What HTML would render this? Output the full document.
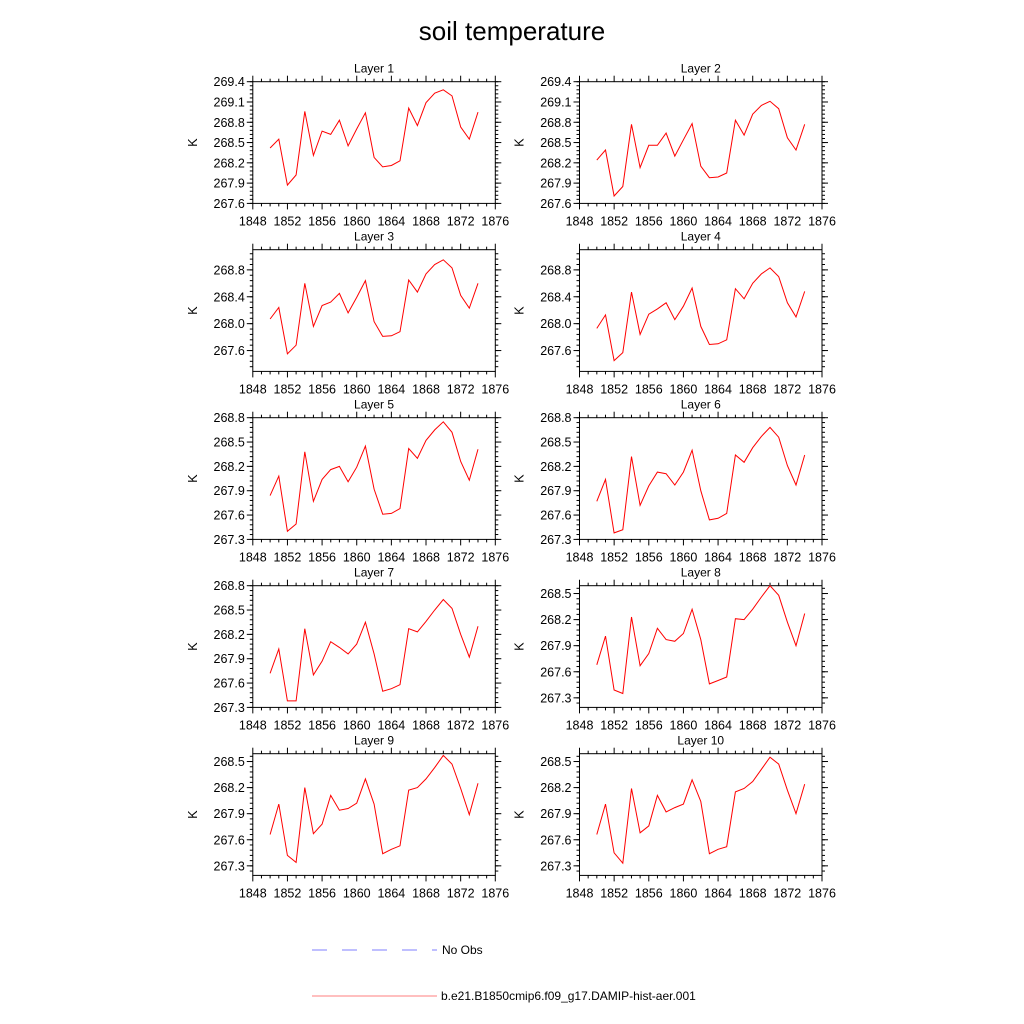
<!DOCTYPE html>
<html><head><meta charset="utf-8"><style>
body{margin:0;background:#fff;}
svg{display:block;font-family:"Liberation Sans",sans-serif;}
</style></head><body>
<svg id="chart" width="1024" height="1024" viewBox="0 0 1024 1024" xmlns="http://www.w3.org/2000/svg">
<rect width="1024" height="1024" fill="#fff"/>
<text x="512" y="40" font-size="26" text-anchor="middle">soil temperature</text>
<g>
<line x1="312" y1="950" x2="437" y2="950" stroke="#7f7fff" stroke-width="1" stroke-dasharray="15,15"/>
<text x="442" y="954" font-size="12">No Obs</text>
<line x1="312" y1="996" x2="437" y2="996" stroke="#ff7f7f" stroke-width="1"/>
<text x="441" y="1000" font-size="12">b.e21.B1850cmip6.f09_g17.DAMIP-hist-aer.001</text>
</g>
</svg>
<script>
const years = [1850,1851,1852,1853,1854,1855,1856,1857,1858,1859,1860,1861,1862,1863,1864,1865,1866,1867,1868,1869,1870,1871,1872,1873,1874];
const xTicks = [1848,1852,1856,1860,1864,1868,1872,1876];
const layer1 = [268.42,268.55,267.87,268.02,268.96,268.31,268.67,268.62,268.83,268.45,268.70,268.94,268.28,268.14,268.16,268.23,269.01,268.75,269.09,269.23,269.28,269.19,268.73,268.55,268.95];
const layer2 = [268.24,268.39,267.71,267.85,268.77,268.13,268.46,268.46,268.64,268.30,268.54,268.78,268.15,267.98,267.99,268.05,268.83,268.61,268.92,269.05,269.11,269.00,268.57,268.39,268.77];
const layer3 = [268.07,268.24,267.55,267.68,268.60,267.96,268.27,268.32,268.45,268.16,268.39,268.64,268.03,267.81,267.82,267.88,268.65,268.47,268.74,268.88,268.95,268.83,268.42,268.23,268.60];
const layer4 = [267.93,268.13,267.45,267.57,268.47,267.84,268.14,268.22,268.31,268.06,268.26,268.53,267.96,267.69,267.70,267.76,268.52,268.37,268.60,268.74,268.83,268.70,268.31,268.10,268.48];
const layer5 = [267.84,268.08,267.40,267.49,268.38,267.77,268.04,268.16,268.20,268.01,268.19,268.45,267.92,267.61,267.62,267.68,268.42,268.30,268.52,268.65,268.75,268.62,268.26,268.03,268.41];
const layer6 = [267.77,268.04,267.38,267.42,268.32,267.72,267.96,268.13,268.11,267.97,268.13,268.40,267.90,267.54,267.56,267.62,268.34,268.25,268.43,268.57,268.68,268.56,268.21,267.97,268.34];
const layer7 = [267.72,268.02,267.38,267.38,268.27,267.70,267.87,268.11,268.04,267.96,268.08,268.35,267.96,267.50,267.53,267.58,268.27,268.23,268.36,268.50,268.63,268.52,268.20,267.92,268.30];
const layer8 = [267.68,268.01,267.39,267.35,268.23,267.67,267.81,268.10,267.97,267.95,268.04,268.32,267.97,267.46,267.50,267.54,268.21,268.20,268.32,268.46,268.59,268.48,268.17,267.90,268.27];
const layer9 = [267.66,268.01,267.42,267.34,268.20,267.67,267.78,268.11,267.94,267.96,268.02,268.30,268.01,267.44,267.49,267.53,268.17,268.20,268.30,268.43,268.57,268.47,268.19,267.89,268.25];
const layer10 = [267.66,268.01,267.45,267.33,268.19,267.68,267.76,268.11,267.92,267.97,268.01,268.29,268.04,267.44,267.49,267.52,268.15,268.19,268.27,268.41,268.55,268.47,268.17,267.90,268.24];
const yTicksA = [267.6,267.9,268.2,268.5,268.8,269.1,269.4];
const yTicksB = [267.6,268.0,268.4,268.8];
const yTicksC = [267.3,267.6,267.9,268.2,268.5,268.8];
const yTicksD = [267.3,267.6,267.9,268.2,268.5];

const NS = "http://www.w3.org/2000/svg";
const svg = document.getElementById('chart');
function mk(tag, attrs, parent){const e=document.createElementNS(NS,tag);for(const k in attrs)e.setAttribute(k,attrs[k]);parent.appendChild(e);return e;}

const panels = [
 {name:'Layer 1',data:layer1,ymin:267.6,ymax:269.4,ticks:yTicksA,minor:0.06,dec:1},
 {name:'Layer 2',data:layer2,ymin:267.6,ymax:269.4,ticks:yTicksA,minor:0.06,dec:1},
 {name:'Layer 3',data:layer3,ymin:267.29,ymax:269.1,ticks:yTicksB,minor:0.08,dec:1},
 {name:'Layer 4',data:layer4,ymin:267.29,ymax:269.1,ticks:yTicksB,minor:0.08,dec:1},
 {name:'Layer 5',data:layer5,ymin:267.3,ymax:268.8,ticks:yTicksC,minor:0.06,dec:1},
 {name:'Layer 6',data:layer6,ymin:267.3,ymax:268.8,ticks:yTicksC,minor:0.06,dec:1},
 {name:'Layer 7',data:layer7,ymin:267.3,ymax:268.8,ticks:yTicksC,minor:0.06,dec:1},
 {name:'Layer 8',data:layer8,ymin:267.19,ymax:268.59,ticks:yTicksD,minor:0.06,dec:1},
 {name:'Layer 9',data:layer9,ymin:267.19,ymax:268.59,ticks:yTicksD,minor:0.06,dec:1},
 {name:'Layer 10',data:layer10,ymin:267.19,ymax:268.59,ticks:yTicksD,minor:0.06,dec:1}
];
const W=242.5, H=121.7;
panels.forEach((p,i)=>{
  const left = (i%2===0)?252.8:579.5;
  const top = 81.7 + Math.floor(i/2)*168;
  const g = mk('g',{},svg);
  
  
  const xs = v => left + (v-1848)/(1876-1848)*W;
  const ys = v => top + H - (v-p.ymin)/(p.ymax-p.ymin)*H;
  const t = mk('text',{x:left+W/2,y:top-9,'font-size':12,'text-anchor':'middle'},g);
  t.textContent=p.name;
  
  
  const fr = mk('rect',{x:left,y:top,width:W,height:H,fill:'none',stroke:'#000','stroke-width':1},g);
  
  
  // x ticks
  for(let yr=1848; yr<=1876; yr++){
    const x=xs(yr), major=(yr-1848)%4===0, L=major?6:3;
    mk('line',{x1:x,y1:top+H,x2:x,y2:top+H+L,stroke:'#000','stroke-width':1},g);
    mk('line',{x1:x,y1:top,x2:x,y2:top-L,stroke:'#000','stroke-width':1},g);
  }
  xTicks.forEach(v=>{
    const tl=mk('text',{x:xs(v),y:top+H+22,'font-size':12.5,'text-anchor':'middle'},g);
    tl.textContent=v;
    
    
  });
  // y minor ticks
  const st=p.ticks[0];
  for(let k=-20;k<60;k++){
    const v=st+k*p.minor;
    if(v<p.ymin-1e-6||v>p.ymax+1e-6) continue;
    const y=ys(v);
    mk('line',{x1:left,y1:y,x2:left-3,y2:y,stroke:'#000','stroke-width':1},g);
    mk('line',{x1:left+W,y1:y,x2:left+W+3,y2:y,stroke:'#000','stroke-width':1},g);
  }
  p.ticks.forEach(v=>{
    const y=ys(v);
    mk('line',{x1:left,y1:y,x2:left-6,y2:y,stroke:'#000','stroke-width':1},g);
    mk('line',{x1:left+W,y1:y,x2:left+W+6,y2:y,stroke:'#000','stroke-width':1},g);
    const tl=mk('text',{x:left-8,y:y+4.5,'font-size':12.5,'text-anchor':'end'},g);
    tl.textContent=v.toFixed(p.dec);
    
    
  });
  const yl=mk('text',{x:0,y:0,'font-size':12.5,'text-anchor':'middle',transform:`translate(${left-56},${top+H/2}) rotate(-90)`},g);
  yl.textContent='K';
  
  
  const pts=p.data.map((v,j)=>xs(years[j]).toFixed(1)+','+ys(v).toFixed(1)).join(' ');
  const pl=mk('polyline',{points:pts,fill:'none',stroke:'#ff0000','stroke-width':1},g);
  
  
});
</script>
</body></html>
